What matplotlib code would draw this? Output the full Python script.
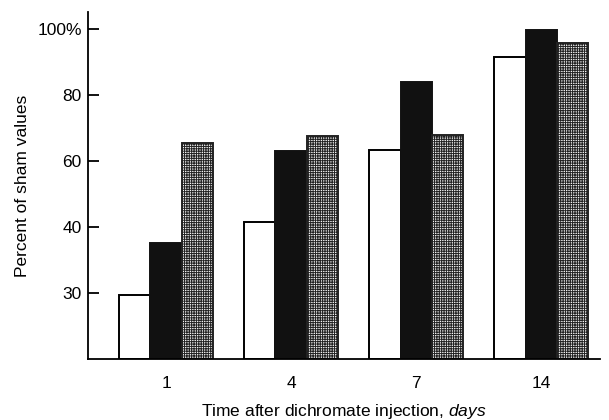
import numpy as np
import matplotlib
matplotlib.use("Agg")
import matplotlib.pyplot as plt

plt.rcParams['font.family'] = ['Liberation Sans', 'DejaVu Sans']
plt.rcParams['mathtext.fontset'] = 'custom'
plt.rcParams['mathtext.rm'] = 'Liberation Sans'
plt.rcParams['mathtext.it'] = 'Liberation Sans:italic'
plt.rcParams['hatch.linewidth'] = 0.7

# data (in axis units)
days = ['1', '4', '7', '14']
white_vals = [19.5, 41.6, 63.5, 91.6]
black_vals = [35.3, 63.1, 83.9, 99.7]
stipple_vals = [65.6, 67.6, 67.8, 95.8]

ytick_pos = [20, 40, 60, 80, 100]
ytick_labels = ['30', '40', '60', '80', '100%']

fig = plt.figure(figsize=(6.09, 4.2), dpi=100)
ax = fig.add_axes([0.1445, 0.1452, 0.8407, 0.826])

x = np.arange(len(days))
w = 0.25
ax.bar(x - w, white_vals, w, facecolor='white', edgecolor='black', linewidth=1.4)
ax.bar(x, black_vals, w, facecolor='#111111', edgecolor='#111111', linewidth=1.4)
ax.bar(x + w, stipple_vals, w, facecolor='#f4f4f4', edgecolor='#222222',
       linewidth=1.4, hatch='+++++++')

ax.set_xlim(-0.624, 3.47)
ax.set_ylim(0, 105.2)

ax.set_xticks(x)
ax.set_xticklabels(days, fontsize=12.5)
ax.tick_params(axis='x', length=0, pad=12)
ax.set_yticks(ytick_pos)
ax.set_yticklabels(ytick_labels, fontsize=12.5)
ax.tick_params(axis='y', direction='in', length=8, width=1.3, pad=4.5)

for s in ['top', 'right']:
    ax.spines[s].set_visible(False)
for s in ['left', 'bottom']:
    ax.spines[s].set_linewidth(1.3)

ax.set_ylabel('Percent of sham values', fontsize=12.5, labelpad=5)
ax.set_xlabel('Time after dichromate injection, $\\it{days}$', fontsize=12.5, labelpad=8)

fig.savefig('out.png', dpi=100)
